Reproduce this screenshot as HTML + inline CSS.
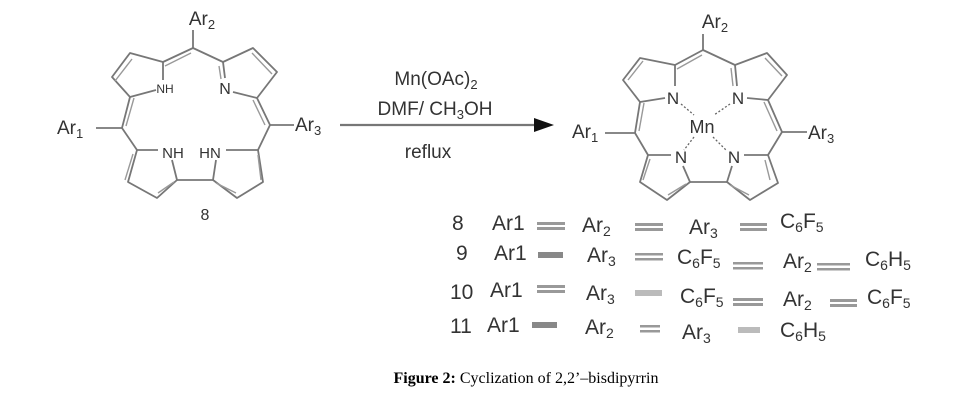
<!DOCTYPE html>
<html><head><meta charset="utf-8"><style>
html,body{margin:0;padding:0;background:#fff;}
svg{display:block;}
text{font-family:"Liberation Sans",sans-serif;fill:#333;}
.b{stroke:#777;stroke-width:1.8;fill:none;stroke-linejoin:round}
.d{stroke:#999;stroke-width:1.4;fill:none}
.eq{fill:#999}
</style></head><body>
<svg width="978" height="413" viewBox="0 0 978 413" xmlns="http://www.w3.org/2000/svg">
<!-- left molecule -->
<g class="b">
<line x1="193" y1="48" x2="193" y2="30"/>
<path d="M163,62 L130,53 L112,77 L130,97 L156,90"/>
<line x1="163" y1="62" x2="163" y2="80"/>
<path d="M163,62 L193,48 L223,62"/>
<line x1="223" y1="62" x2="225" y2="78"/>
<path d="M223,62 L253,48 L277,72 L257,98 L233,92"/>
<path d="M130,97 L122,128 L137,150"/>
<line x1="122" y1="128" x2="96" y2="128"/>
<path d="M257,98 L270,125 L258,150"/>
<line x1="270" y1="125" x2="294" y2="125"/>
<path d="M137,150 L158,150"/>
<path d="M137,150 L128,182 L157,198 L177,180 L172,160"/>
<path d="M177,180 L213,180"/>
<path d="M258,150 L226,150"/>
<path d="M258,150 L263,182 L237,198 L213,180 L216,160"/>
</g>
<g class="d">
<line x1="132" y1="59" x2="115" y2="81"/>
<line x1="165" y1="66" x2="191" y2="53"/>
<line x1="219" y1="66" x2="221" y2="79"/>
<line x1="252" y1="53" x2="272" y2="74"/>
<line x1="134" y1="98" x2="126" y2="126"/>
<line x1="253" y1="100" x2="265" y2="125"/>
<line x1="133" y1="154" x2="125" y2="180"/>
<line x1="158" y1="193" x2="174" y2="182"/>
<line x1="236" y1="193" x2="216" y2="183"/>
<line x1="258" y1="155" x2="261" y2="180"/>
</g>
<text x="202" y="25" font-size="19" text-anchor="middle">Ar<tspan font-size="13" dy="4">2</tspan></text>
<text x="165" y="93" font-size="12" text-anchor="middle">NH</text>
<text x="225" y="94" font-size="16" text-anchor="middle">N</text>
<text x="57" y="134" font-size="19">Ar<tspan font-size="13" dy="4">1</tspan></text>
<text x="295" y="131" font-size="19">Ar<tspan font-size="13" dy="4">3</tspan></text>
<text x="173" y="158" font-size="15" text-anchor="middle">NH</text>
<text x="210" y="158" font-size="15" text-anchor="middle">HN</text>
<text x="205" y="220" font-size="16" text-anchor="middle">8</text>

<!-- arrow -->
<line x1="340" y1="125" x2="540" y2="125" stroke="#777" stroke-width="2.2"/>
<polygon points="534,118 554,125 534,132" fill="#111"/>
<text x="436" y="85" font-size="19" text-anchor="middle">Mn(OAc)<tspan font-size="13" dy="4">2</tspan></text>
<text x="435" y="115" font-size="19" text-anchor="middle">DMF/ CH<tspan font-size="13" dy="4">3</tspan><tspan dy="-4">OH</tspan></text>
<text x="428" y="158" font-size="19" text-anchor="middle">reflux</text>

<!-- right molecule -->
<g class="b">
<line x1="703" y1="50" x2="703" y2="34"/>
<path d="M675,65 L640,58 L623,80 L640,102 L665,98"/>
<line x1="675" y1="65" x2="675" y2="86"/>
<path d="M675,65 L703,50 L735,65"/>
<line x1="735" y1="65" x2="737" y2="86"/>
<path d="M735,65 L767,53 L787,75 L768,100 L747,98"/>
<path d="M640,102 L635,133 L648,155"/>
<line x1="635" y1="133" x2="605" y2="133"/>
<path d="M768,100 L782,132 L768,155"/>
<line x1="782" y1="132" x2="807" y2="132"/>
<path d="M648,155 L671,155"/>
<path d="M648,155 L640,182 L667,200 L690,182 L683,166"/>
<path d="M690,182 L727,182"/>
<path d="M768,155 L744,155"/>
<path d="M768,155 L778,183 L750,200 L727,182 L732,166"/>
</g>
<g class="d">
<line x1="628" y1="80" x2="643" y2="61"/>
<line x1="677" y1="69" x2="702" y2="55"/>
<line x1="731" y1="68" x2="733" y2="86"/>
<line x1="765" y1="58" x2="782" y2="76"/>
<line x1="644" y1="103" x2="639" y2="131"/>
<line x1="764" y1="102" x2="777" y2="131"/>
<line x1="650" y1="159" x2="643" y2="180"/>
<line x1="668" y1="195" x2="686" y2="184"/>
<line x1="749" y1="195" x2="730" y2="185"/>
<line x1="765" y1="160" x2="770" y2="180"/>
</g>
<g stroke="#666" stroke-width="1.3" stroke-dasharray="2,2">
<line x1="681" y1="104" x2="694" y2="115"/>
<line x1="730" y1="104" x2="714" y2="115"/>
<line x1="694" y1="137" x2="684" y2="150"/>
<line x1="713" y1="137" x2="726" y2="150"/>
</g>
<text x="715" y="28" font-size="19" text-anchor="middle">Ar<tspan font-size="13" dy="4">2</tspan></text>
<text x="673" y="104" font-size="17" text-anchor="middle">N</text>
<text x="738" y="104" font-size="17" text-anchor="middle">N</text>
<text x="702" y="133" font-size="18" text-anchor="middle">Mn</text>
<text x="572" y="138" font-size="19">Ar<tspan font-size="13" dy="4">1</tspan></text>
<text x="808" y="139" font-size="19">Ar<tspan font-size="13" dy="4">3</tspan></text>
<text x="681" y="163" font-size="17" text-anchor="middle">N</text>
<text x="734" y="163" font-size="17" text-anchor="middle">N</text>

<!-- table -->
<g font-size="21">
<text x="452" y="230">8</text><text x="492" y="230">Ar1</text>
<text x="582" y="232">Ar<tspan font-size="14" dy="4">2</tspan></text>
<text x="689" y="234">Ar<tspan font-size="14" dy="4">3</tspan></text>
<text x="780" y="228">C<tspan font-size="14" dy="4">6</tspan><tspan dy="-4">F</tspan><tspan font-size="14" dy="4">5</tspan></text>

<text x="456" y="260">9</text><text x="494" y="260">Ar1</text>
<text x="587" y="262">Ar<tspan font-size="14" dy="4">3</tspan></text>
<text x="677" y="264">C<tspan font-size="14" dy="4">6</tspan><tspan dy="-4">F</tspan><tspan font-size="14" dy="4">5</tspan></text>
<text x="783" y="268">Ar<tspan font-size="14" dy="4">2</tspan></text>
<text x="865" y="266">C<tspan font-size="14" dy="4">6</tspan><tspan dy="-4">H</tspan><tspan font-size="14" dy="4">5</tspan></text>

<text x="450" y="299">10</text><text x="490" y="297">Ar1</text>
<text x="586" y="300">Ar<tspan font-size="14" dy="4">3</tspan></text>
<text x="680" y="303">C<tspan font-size="14" dy="4">6</tspan><tspan dy="-4">F</tspan><tspan font-size="14" dy="4">5</tspan></text>
<text x="783" y="306">Ar<tspan font-size="14" dy="4">2</tspan></text>
<text x="867" y="304">C<tspan font-size="14" dy="4">6</tspan><tspan dy="-4">F</tspan><tspan font-size="14" dy="4">5</tspan></text>

<text x="450" y="333">11</text><text x="487" y="332">Ar1</text>
<text x="585" y="334">Ar<tspan font-size="14" dy="4">2</tspan></text>
<text x="682" y="339">Ar<tspan font-size="14" dy="4">3</tspan></text>
<text x="780" y="337">C<tspan font-size="14" dy="4">6</tspan><tspan dy="-4">H</tspan><tspan font-size="14" dy="4">5</tspan></text>
</g>
<g class="eq">
<rect x="537" y="222" width="28" height="3"/><rect x="537" y="227" width="28" height="3"/>
<rect x="635" y="223" width="28" height="3"/><rect x="635" y="228" width="28" height="3"/>
<rect x="740" y="223" width="27" height="3"/><rect x="740" y="228" width="27" height="3"/>
<rect x="538" y="252" width="25" height="6" fill="#888"/>
<rect x="635" y="253" width="28" height="2.5"/><rect x="635" y="258" width="28" height="2.5"/>
<rect x="733" y="262" width="30" height="2.5"/><rect x="733" y="267" width="30" height="2.5"/>
<rect x="817" y="263" width="33" height="2.5"/><rect x="817" y="268" width="33" height="2.5"/>
<rect x="537" y="285" width="28" height="3"/><rect x="537" y="290" width="28" height="3"/>
<rect x="635" y="290" width="27" height="6" fill="#bbb"/>
<rect x="733" y="298" width="30" height="3"/><rect x="733" y="303" width="30" height="3"/>
<rect x="830" y="299" width="27" height="3"/><rect x="830" y="304" width="27" height="3"/>
<rect x="532" y="322" width="25" height="6" fill="#888"/>
<rect x="640" y="325" width="20" height="2.5"/><rect x="640" y="330" width="20" height="2.5"/>
<rect x="738" y="327" width="22" height="6" fill="#bbb"/>
</g>

<text x="526" y="383" font-size="16" text-anchor="middle" style="font-family:'Liberation Serif',serif;fill:#000"><tspan font-weight="bold">Figure 2:</tspan> Cyclization of 2,2’–bisdipyrrin</text>
</svg>
</body></html>
